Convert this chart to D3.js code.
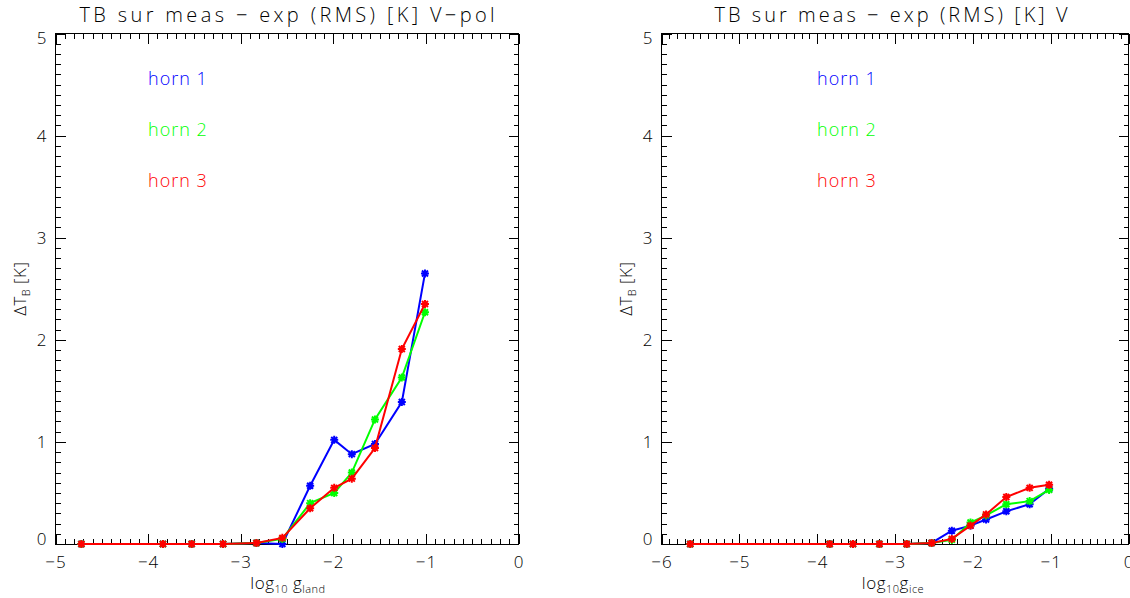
<!DOCTYPE html>
<html><head><meta charset="utf-8">
<script src="https://cdn.jsdelivr.net/npm/d3@7"></script>
<style>
body{margin:0;background:#fff}
svg{display:block}
text{font-family:"Open Sans","DejaVu Sans",sans-serif;font-weight:300;fill:#000}
</style>
</head><body>
<svg id="chart" width="1130" height="598"></svg>
<script>
// Horn legend
const hornNames = ["horn 1", "horn 2", "horn 3"];
const hornColors = ["#0000ff", "#00ff00", "#ff0000"];
const yTicks = [0, 1, 2, 3, 4, 5];

// Land panel: log10 g_land vs RMS difference
const landX = [-4.72, -3.84, -3.53, -3.19, -2.83, -2.55, -2.25, -1.99, -1.80, -1.55, -1.26, -1.01];
const landH1 = [0, 0, 0, 0, 0.01, 0.0, 0.57, 1.02, 0.88, 0.98, 1.39, 2.65];
const landH2 = [0, 0, 0, 0, 0.01, 0.05, 0.40, 0.50, 0.70, 1.22, 1.63, 2.27];
const landH3 = [0, 0, 0, 0, 0.01, 0.06, 0.35, 0.55, 0.64, 0.94, 1.91, 2.35];
const landXTicks = [-5, -4, -3, -2, -1, 0];

// Ice panel: log10 g_ice vs RMS difference
const iceX = [-5.63, -3.84, -3.54, -3.20, -2.85, -2.53, -2.27, -2.03, -1.83, -1.57, -1.27, -1.02];
const iceH1 = [0, 0, 0, 0, 0, 0.01, 0.13, 0.18, 0.24, 0.32, 0.39, 0.54];
const iceH2 = [0, 0, 0, 0, 0, 0.01, 0.04, 0.21, 0.28, 0.39, 0.42, 0.53];
const iceH3 = [0, 0, 0, 0, 0, 0.01, 0.05, 0.18, 0.29, 0.46, 0.55, 0.58];
const iceXTicks = [-6, -5, -4, -3, -2, -1, 0];

const svg = d3.select("#chart");
const plotTop = 33.5, plotBottom = 544;
const FONT = '"Open Sans","DejaVu Sans",sans-serif';

function panel(opts) {
  const g = svg.append("g");
  const x = d3.scaleLinear().domain(opts.xDomain).range([opts.left, opts.right]);
  const y = d3.scaleLinear().domain([0, 5]).range([plotBottom, plotTop]);
  const fmt = d => d3.format("d")(d);

  // minor ticks (10 per unit) on all four sides
  const xMinor = d3.range(opts.xDomain[0] * 10, opts.xDomain[1] * 10 + 1).map(v => v / 10);
  const yMinor = d3.range(0, 51).map(v => v / 10);
  const minor = [
    [d3.axisBottom(x).tickValues(xMinor), `translate(0,${plotBottom})`],
    [d3.axisTop(x).tickValues(xMinor), `translate(0,${plotTop})`],
    [d3.axisLeft(y).tickValues(yMinor), `translate(${opts.left},0)`],
    [d3.axisRight(y).tickValues(yMinor), `translate(${opts.right},0)`]
  ];
  minor.forEach(([ax, tr]) => {
    g.append("g").attr("transform", tr)
      .call(ax.tickSize(-5).tickFormat(""))
      .call(s => s.select(".domain").remove())
      .selectAll("line").attr("stroke", "#000").attr("shape-rendering", "crispEdges");
  });

  // major ticks
  g.append("g").attr("transform", `translate(0,${plotBottom})`)
    .call(d3.axisBottom(x).tickValues(opts.xTicks).tickSize(-10).tickPadding(12).tickFormat(fmt));
  g.append("g").attr("transform", `translate(0,${plotTop})`)
    .call(d3.axisTop(x).tickValues(opts.xTicks).tickSize(-10).tickFormat(""));
  const yAx = g.append("g").attr("transform", `translate(${opts.left},0)`)
    .call(d3.axisLeft(y).tickValues(yTicks).tickSize(-10).tickPadding(8).tickFormat(fmt));
  // end labels sit inside the axis span
  yAx.selectAll(".tick text").attr("y", d => d === 0 ? -5 : d === 5 ? 5 : 0);
  g.append("g").attr("transform", `translate(${opts.right},0)`)
    .call(d3.axisRight(y).tickValues(yTicks).tickSize(-10).tickFormat(""));
  g.selectAll(".domain").remove();
  g.selectAll(".tick line").attr("stroke", "#000").attr("shape-rendering", "crispEdges");
  g.selectAll(".tick text").attr("font-size", 17).attr("font-family", FONT)
    .attr("font-weight", 300).attr("letter-spacing", 1).attr("fill", "#000");

  // frame
  g.append("rect").attr("x", opts.left).attr("y", plotTop)
    .attr("width", opts.right - opts.left).attr("height", plotBottom - plotTop)
    .attr("fill", "none").attr("stroke", "#000").attr("shape-rendering", "crispEdges");

  // title
  g.append("text").attr("x", opts.titleX).attr("y", 22)
    .attr("text-anchor", "middle").attr("font-size", 20)
    .attr("textLength", opts.titleWidth).attr("lengthAdjust", "spacing")
    .text(opts.title);

  // y title
  const yt = g.append("text")
    .attr("transform", `translate(${opts.left - 30},${(plotTop + plotBottom) / 2}) rotate(-90)`)
    .attr("text-anchor", "middle").attr("font-size", 17).attr("letter-spacing", 0.5);
  yt.append("tspan").text("ΔT");
  yt.append("tspan").attr("font-size", 11).attr("dy", 4).text("B");
  yt.append("tspan").attr("dy", -4).text(" [K]");

  // x title
  const xt = g.append("text").attr("x", opts.xTitleX).attr("y", 589)
    .attr("text-anchor", "middle").attr("font-size", 17).attr("letter-spacing", 0.5);
  xt.append("tspan").text("log");
  xt.append("tspan").attr("font-size", 11).attr("dy", 4).text("10");
  xt.append("tspan").attr("dy", -4).text(opts.xSep + "g");
  xt.append("tspan").attr("font-size", 11).attr("dy", 4).text(opts.xSub);

  // series
  const line = d3.line().x(d => x(d[0])).y(d => y(d[1]));
  opts.series.forEach((vals, i) => {
    const pts = opts.xs.map((v, k) => [v, vals[k]]);
    g.append("path").datum(pts).attr("d", line)
      .attr("fill", "none").attr("stroke", hornColors[i]).attr("stroke-width", 2);
    const r = 4, d = 3;
    g.append("g").selectAll("path").data(pts).join("path")
      .attr("transform", p => `translate(${x(p[0])},${y(p[1])})`)
      .attr("d", `M${-r},0H${r}M0,${-r}V${r}M${-d},${-d}L${d},${d}M${-d},${d}L${d},${-d}`)
      .attr("stroke", hornColors[i]).attr("stroke-width", 2).attr("fill", "none");
  });

  // legend
  hornNames.forEach((name, i) => {
    g.append("text").attr("x", opts.legendX).attr("y", 85 + i * 51)
      .attr("font-size", 18).attr("letter-spacing", 1).style("fill", hornColors[i]).text(name);
  });
}

panel({
  left: 55.5, right: 518.5, xDomain: [-5, 0], xTicks: landXTicks,
  title: "TB sur meas \u2212 exp (RMS) [K] V\u2212pol", titleX: 287, titleWidth: 415,
  xs: landX, series: [landH1, landH2, landH3],
  legendX: 148, xTitleX: 288, xSep: " ", xSub: "land"
});
panel({
  left: 661.5, right: 1128.5, xDomain: [-6, 0], xTicks: iceXTicks,
  title: "TB sur meas \u2212 exp (RMS) [K] V", titleX: 891, titleWidth: 353,
  xs: iceX, series: [iceH1, iceH2, iceH3],
  legendX: 817, xTitleX: 893, xSep: "", xSub: "ice"
});
</script>
</body></html>
